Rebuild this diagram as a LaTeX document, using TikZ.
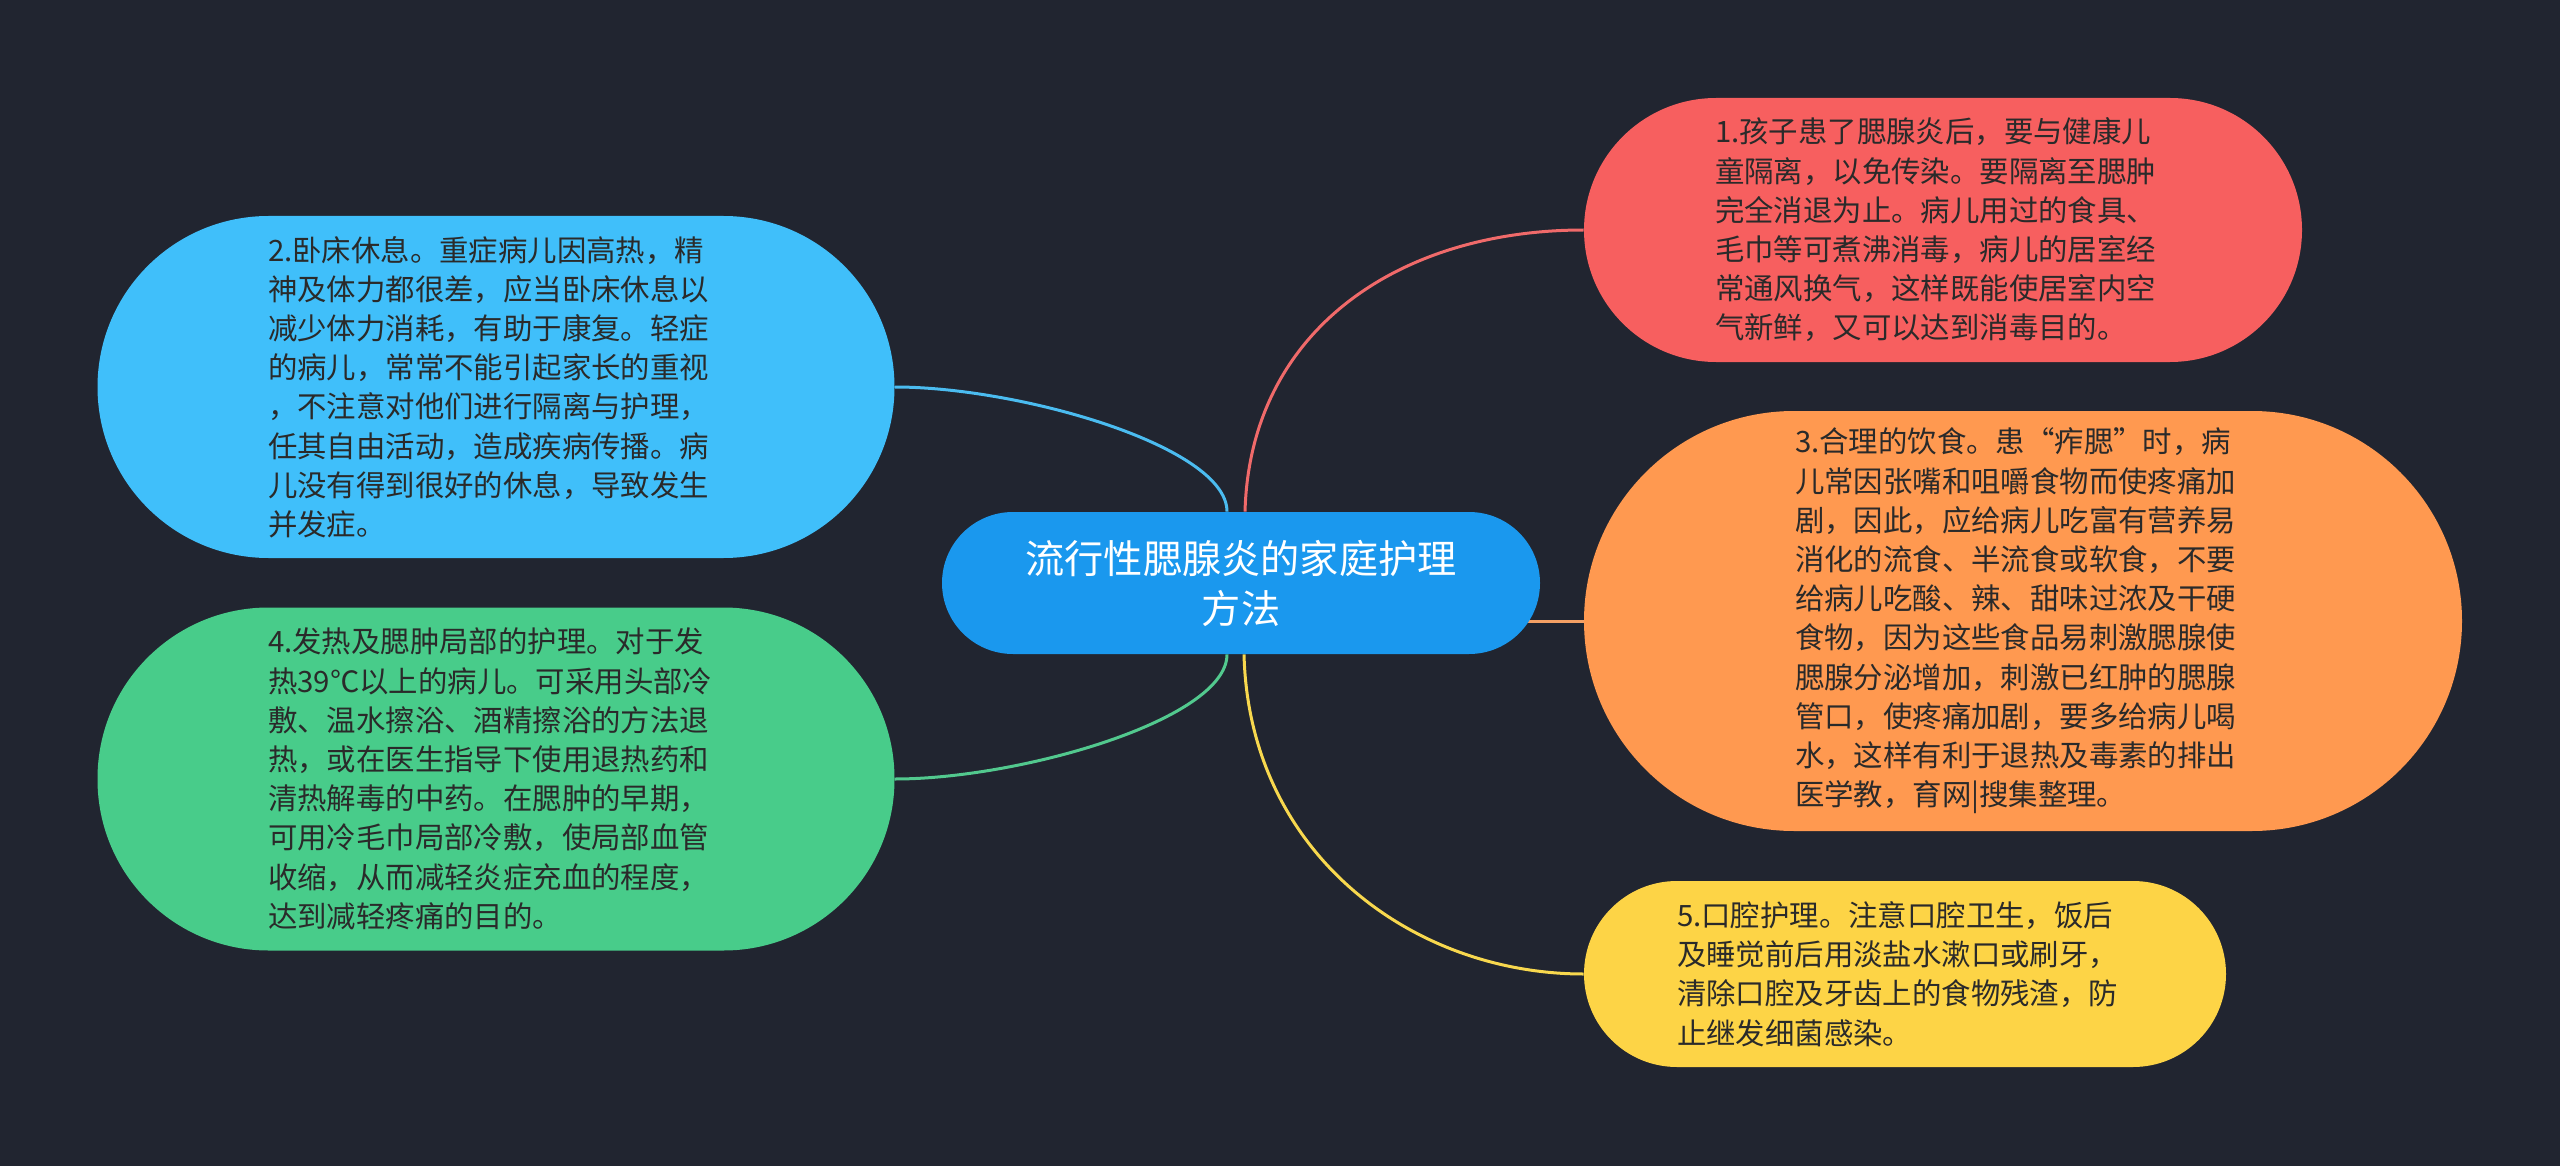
\documentclass[tikz,border=0pt]{standalone}
\usepackage{fontspec}
\setmainfont{Noto Sans CJK SC}
\usepackage{tikz}
\usepackage{xcolor}

\definecolor{bgdark}{HTML}{212530}
\definecolor{rootblue}{HTML}{1A98EE}
\definecolor{redfill}{HTML}{F75F5F}
\definecolor{orangefill}{HTML}{FF9950}
\definecolor{yellowfill}{HTML}{FDD446}
\definecolor{cyanfill}{HTML}{40BFFA}
\definecolor{greenfill}{HTML}{48CC8A}
\definecolor{txtdark}{HTML}{2A2A2A}
\definecolor{redline}{HTML}{F06A6A}
\definecolor{orangeline}{HTML}{F4A064}
\definecolor{yellowline}{HTML}{F8D84E}
\definecolor{cyanline}{HTML}{4BBCF0}
\definecolor{greenline}{HTML}{52C98E}

\pgfdeclarelayer{back}
\pgfsetlayers{back,main}

\tikzset{
  rootbox/.style={fill=rootblue, inner sep=0pt, text=white, align=center,
    font=\fontsize{19.6pt}{25pt}\selectfont,
    minimum width=299pt, minimum height=71pt, rounded corners=35.5pt},
  topic/.style={inner sep=0pt, text=txtdark, align=left, text width=228pt,
    font=\fontsize{14.7pt}{19.6pt}\selectfont},
  link/.style={line width=1.5pt}
}

\begin{document}
\begin{tikzpicture}[x=0.5pt,y=-0.5pt]
\useasboundingbox (0,0) rectangle (2560,1166);
\begin{pgfonlayer}{back}
\fill[bgdark] (0,0) rectangle (2560,1166);
\end{pgfonlayer}

% centre
\node[rootbox] (root) at (1241,583) {流行性腮腺炎的家庭护理\\方法};

% right side
\node[topic, fill=redfill, minimum width=359pt, minimum height=132pt, rounded corners=66pt] (isolate) at (1943,230)
{1.孩子患了腮腺炎后，要与健康儿\\
童隔离，以免传染。要隔离至腮肿\\
完全消退为止。病儿用过的食具、\\
毛巾等可煮沸消毒，病儿的居室经\\
常通风换气，这样既能使居室内空\\
气新鲜，又可以达到消毒目的。};
\node[topic, fill=orangefill, minimum width=439pt, minimum height=210pt, rounded corners=105pt] (diet) at (2023,621)
{3.合理的饮食。患“痄腮”时，病\\
儿常因张嘴和咀嚼食物而使疼痛加\\
剧，因此，应给病儿吃富有营养易\\
消化的流食、半流食或软食，不要\\
给病儿吃酸、辣、甜味过浓及干硬\\
食物，因为这些食品易刺激腮腺使\\
腮腺分泌增加，刺激已红肿的腮腺\\
管口，使疼痛加剧，要多给病儿喝\\
水，这样有利于退热及毒素的排出\\
医学教，育网|搜集整理。};
\node[topic, fill=yellowfill, minimum width=321pt, minimum height=93pt, rounded corners=46.5pt] (mouth) at (1905,974)
{5.口腔护理。注意口腔卫生，饭后\\
及睡觉前后用淡盐水漱口或刷牙，\\
清除口腔及牙齿上的食物残渣，防\\
止继发细菌感染。};

% left side
\node[topic, fill=cyanfill, minimum width=398.5pt, minimum height=171pt, rounded corners=85.5pt] (rest) at (496,387)
{2.卧床休息。重症病儿因高热，精\\
神及体力都很差，应当卧床休息以\\
减少体力消耗，有助于康复。轻症\\
的病儿，常常不能引起家长的重视\\
，不注意对他们进行隔离与护理，\\
任其自由活动，造成疾病传播。病\\
儿没有得到很好的休息，导致发生\\
并发症。};
\node[topic, fill=greenfill, minimum width=398.5pt, minimum height=171.5pt, rounded corners=85.5pt] (fever) at (496,779)
{4.发热及腮肿局部的护理。对于发\\
热39℃以上的病儿。可采用头部冷\\
敷、温水擦浴、酒精擦浴的方法退\\
热，或在医生指导下使用退热药和\\
清热解毒的中药。在腮肿的早期，\\
可用冷毛巾局部冷敷，使局部血管\\
收缩，从而减轻炎症充血的程度，\\
达到减轻疼痛的目的。};

% connectors
\begin{pgfonlayer}{back}
\draw[link, redline] ([xshift=2pt]root.north) .. controls +(5,-182) and +(-184,0) .. (isolate.west);
\draw[link, orangeline] (root.center |- diet.west) -- (diet.west);
\draw[link, yellowline] ([xshift=1.5pt]root.south) .. controls +(5,200) and +(-170,0) .. (mouth.west);
\draw[link, cyanline] ([xshift=-7pt]root.north) .. controls +(0,-65) and +(125,0) .. (rest.east);
\draw[link, greenline] ([xshift=-7pt]root.south) .. controls +(0,65) and +(125,0) .. (fever.east);
\end{pgfonlayer}
\end{tikzpicture}
\end{document}
